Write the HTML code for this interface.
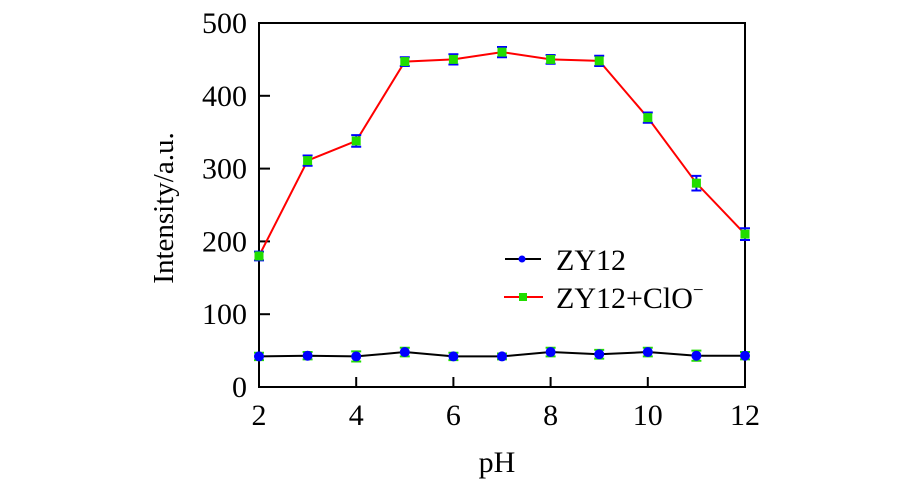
<!DOCTYPE html>
<html><head><meta charset="utf-8"><style>
body{margin:0;background:#fff}
svg text{font-family:"Liberation Serif",serif;fill:#000}
</style></head><body>
<svg id="c" width="900" height="489" viewBox="0 0 900 489">
<g id="g"></g>
</svg>
<script>
const phValues=[2,3,4,5,6,7,8,9,10,11,12];
const zy12=[42,43,42,48,42,42,48,45,48,43,43];
const zy12Err=[5,5,7,6,5,4,6,6,6,7,5];
const zy12ClO=[180,311,338,447,450,460,450,448,370,280,210];
const zy12ClOErr=[6,7,8,6,7,7,6,7,7,10,8];
const xTicks=[2,4,6,8,10,12];
const yTicks=[0,100,200,300,400,500];
const L=259,R=745,T=23,B=387;
const xs=v=>L+(v-2)/10*(R-L);
const ys=v=>B-v/500*(B-T);
const NS='http://www.w3.org/2000/svg';
const g=document.getElementById('g');
function mk(tag,attrs,parent){const e=document.createElementNS(NS,tag);for(const k in attrs)e.setAttribute(k,attrs[k]);(parent||g).appendChild(e);return e;}
const frame=mk('rect',{x:L,y:T,width:R-L,height:B-T,fill:'none',stroke:'#000','stroke-width':2});


xTicks.forEach(t=>{
  const l=mk('line',{x1:xs(t),x2:xs(t),y1:B,y2:B-10,stroke:'#000','stroke-width':2});
  
  
  const tx=mk('text',{x:xs(t),y:B+38,'text-anchor':'middle','font-size':30});
  tx.textContent=t;
  
  
});
yTicks.forEach(t=>{
  const l=mk('line',{x1:L,x2:L+11,y1:ys(t),y2:ys(t),stroke:'#000','stroke-width':2});
  
  
  const tx=mk('text',{x:L-12,y:ys(t)+10,'text-anchor':'end','font-size':30});
  tx.textContent=t;
  
  
});
const xt=mk('text',{x:497,y:472,'text-anchor':'middle','font-size':30});
xt.textContent='pH';


const yt=mk('text',{x:0,y:0,'text-anchor':'middle','font-size':29,transform:'translate(173,208) rotate(-90)'});
yt.textContent='Intensity/a.u.';


function series(vals,errs,lineCol,markCol,errCol,square,name){
  const p=mk('polyline',{points:vals.map((v,i)=>xs(phValues[i])+','+ys(v)).join(' '),fill:'none',stroke:lineCol,'stroke-width':2});
  
  
  vals.forEach((v,i)=>{
    const x=xs(phValues[i]),y1=ys(v+errs[i]),y2=ys(v-errs[i]);
    const e=mk('path',{d:`M${x},${y1}V${y2}M${x-5},${y1}H${x+5}M${x-5},${y2}H${x+5}`,stroke:errCol,'stroke-width':2,fill:'none'});
    
    
    const m=square?mk('rect',{x:x-4.5,y:ys(v)-4.5,width:9,height:9,fill:markCol}):mk('circle',{cx:x,cy:ys(v),r:5,fill:markCol});
    
    
  });
}
series(zy12ClO,zy12ClOErr,'#ff0000','#22dd00','#0000ff',true,'zy12-clo');
series(zy12,zy12Err,'#000000','#0000ff','#22dd00',false,'zy12');
const lg=mk('g',{});


const l1=mk('line',{x1:505,x2:541,y1:259,y2:259,stroke:'#000','stroke-width':2},lg);


const c1=mk('circle',{cx:522,cy:259,r:3.5,fill:'#0000ff'},lg);


const t1=mk('text',{x:556,y:270,'font-size':30},lg);
t1.textContent='ZY12';


const l2=mk('line',{x1:504,x2:543,y1:297,y2:297,stroke:'#ff0000','stroke-width':2},lg);


const s2=mk('rect',{x:519,y:293,width:8,height:8,fill:'#22dd00'},lg);


const t2=mk('text',{x:556,y:308,'font-size':30},lg);
t2.innerHTML='ZY12+ClO<tspan dy="-12" font-size="19">−</tspan>';


</script>
</body></html>
